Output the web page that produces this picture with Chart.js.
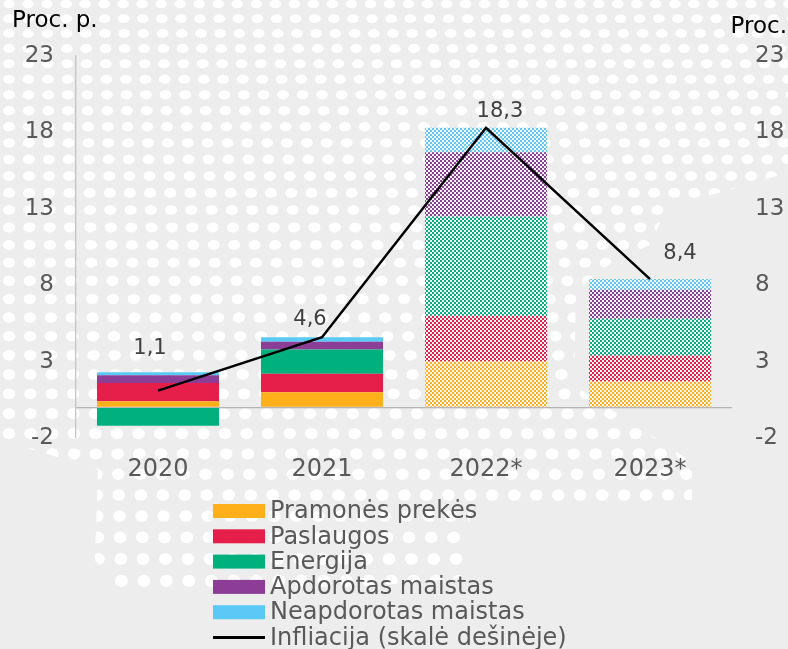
<!DOCTYPE html>
<html><head><meta charset="utf-8">
<script src="https://cdn.jsdelivr.net/npm/chart.js@4.4.1/dist/chart.umd.min.js"></script>
<style>html,body{margin:0;padding:0;background:#ededed;overflow:hidden}#wrap{width:788px;height:649px;position:relative}</style>
</head><body><div id="wrap"><canvas id="c" width="788" height="649"></canvas></div>
<script>
// ---- data ----
const categories = ['2020', '2021', '2022*', '2023*'];
const pramonesPrekes = [0.4, 1.0, 3.0, 1.7];
const paslaugos = [1.2, 1.2, 3.0, 1.7];
const energija = [-1.2, 1.6, 6.5, 2.4];
const apdorotasMaistas = [0.5, 0.5, 4.2, 1.9];
const neapdorotasMaistas = [0.2, 0.3, 1.6, 0.7];
const infliacija = [1.1, 4.6, 18.3, 8.4];
const infliacijaLabels = ['1,1', '4,6', '18,3', '8,4'];
const yTicks = [-2, 3, 8, 13, 18, 23];
const isForecast = [false, false, true, true];
const seriesNames = ['Pramonės prekės', 'Paslaugos', 'Energija', 'Apdorotas maistas', 'Neapdorotas maistas', 'Infliacija (skalė dešinėje)'];

// ---- styles ----
const FONT = "'DejaVu Sans', Verdana, sans-serif";
const TXT = '#595959';
const colors = ['#FDB01A', '#E61E4A', '#00B17E', '#8C3D96', '#5BC9F5'];
const labelOffsets = [[-8, -42], [-12, -18], [14, -16], [30, -26]];

function makePattern(color) {
  const c = document.createElement('canvas');
  c.width = 4; c.height = 4;
  const g = c.getContext('2d');
  g.fillStyle = '#f7f7f7'; g.fillRect(0, 0, 4, 4);
  g.fillStyle = color; g.fillRect(0, 0, 2, 2); g.fillRect(2, 2, 2, 2);
  return g.createPattern(c, 'repeat');
}
function fills(color) {
  const p = makePattern(color);
  return isForecast.map(f => f ? p : color);
}

const seriesValues = [pramonesPrekes, paslaugos, energija, apdorotasMaistas, neapdorotasMaistas];
const barDatasets = seriesValues.map((vals, i) => ({
  type: 'bar', label: seriesNames[i], data: vals,
  backgroundColor: fills(colors[i]), borderWidth: 0,
  yAxisID: 'y', stack: 'a', order: 1,
  categoryPercentage: 1, barPercentage: 0.744
}));

// ---- plugins ----
const bgDots = {
  id: 'bgDots',
  beforeDraw(chart) {
    const ctx = chart.ctx;
    ctx.save();
    ctx.fillStyle = '#ededed';
    ctx.fillRect(0, 0, chart.width, chart.height);
    ctx.beginPath();
    const poly = [[0,0],[788,0],[788,172],[745,186],[668,206],[650,245],[612,262],[576,292],[574,385],[630,422],[692,462],[692,500],[472,505],[462,578],[300,592],[120,592],[95,560],[98,470],[35,450],[0,446]];
    poly.forEach((p, i) => i ? ctx.lineTo(p[0], p[1]) : ctx.moveTo(p[0], p[1]));
    ctx.closePath();
    ctx.clip();
    ctx.fillStyle = '#ffffff';
    let y = 4;
    while (y < 649) {
      const sx = 19.0 + 0.006 * y;
      const rx = 5.8 + 0.001 * y, ry = 4.3 + 0.003 * y;
      for (let x = 9; x < 800; x += sx) {
        ctx.beginPath();
        ctx.ellipse(x, y, rx, ry, 0, 0, Math.PI * 2);
        ctx.fill();
      }
      y += 14.6 + 0.013 * y;
    }
    ctx.restore();
  }
};

const extras = {
  id: 'extras',
  afterDatasetsDraw(chart) {
    const ctx = chart.ctx;
    const meta = chart.getDatasetMeta(chart.data.datasets.length - 1);
    ctx.save();
    ctx.font = '21px ' + FONT;
    ctx.fillStyle = '#404040';
    ctx.textAlign = 'center';
    ctx.textBaseline = 'middle';
    meta.data.forEach((el, i) => {
      ctx.fillText(infliacijaLabels[i], el.x + labelOffsets[i][0], el.y + labelOffsets[i][1]);
    });
    ctx.restore();
  },
  afterDraw(chart) {
    const ctx = chart.ctx;
    ctx.save();
    // axis captions
    ctx.font = '23px ' + FONT;
    ctx.fillStyle = '#000000';
    ctx.textBaseline = 'middle';
    ctx.textAlign = 'left';
    ctx.fillText('Proc. p.', 12, 21);
    ctx.textAlign = 'right';
    ctx.fillText('Proc.', 787, 27);
    // legend
    ctx.font = '24px ' + FONT;
    ctx.textAlign = 'left';
    ctx.textBaseline = 'middle';
    const x0 = 213, w = 52, h = 14, y0 = 511, dy = 25.3;
    chart.data.datasets.forEach((ds, i) => {
      const yc = y0 + i * dy;
      if (ds.type === 'line') {
        ctx.strokeStyle = '#000000';
        ctx.lineWidth = 3;
        ctx.beginPath(); ctx.moveTo(x0, yc); ctx.lineTo(x0 + w, yc); ctx.stroke();
      } else {
        ctx.fillStyle = colors[i];
        ctx.fillRect(x0, yc - h / 2, w, h);
      }
      ctx.fillStyle = TXT;
      ctx.fillText(ds.label, x0 + w + 5, yc + 1);
    });
    ctx.restore();
  }
};

const setTicks = (s) => {
  s.ticks = yTicks.map(v => ({ value: v }));
};

new Chart(document.getElementById('c'), {
  data: {
    labels: categories,
    datasets: [...barDatasets, {
      type: 'line', label: seriesNames[5], data: infliacija,
      borderColor: '#000000', borderWidth: 2.5, pointRadius: 0, tension: 0,
      yAxisID: 'y1', stack: 'line', order: 0, fill: false
    }]
  },
  options: {
    responsive: false,
    devicePixelRatio: 1,
    animation: false,
    layout: { padding: { top: 56, left: 0, right: 0, bottom: 0 } },
    plugins: { legend: { display: false }, tooltip: { enabled: false } },
    scales: {
      x: {
        stacked: true,
        grid: { display: false, drawTicks: false },
        border: { display: false },
        ticks: { font: { size: 24, family: FONT }, color: TXT, padding: 17 },
        afterFit(s) { s.height = 211; }
      },
      y: {
        position: 'left', stacked: true, min: -2, max: 23,
        afterBuildTicks(s) { s.ticks = [-2, 0, 3, 8, 13, 18, 23].map(v => ({ value: v })); },
        grid: {
          drawTicks: false,
          color: (c) => (c.tick && c.tick.value === 0) ? '#b5b5b5' : 'rgba(0,0,0,0)',
          lineWidth: 1.3
        },
        border: { display: true, color: '#c4c4c4', width: 1.3 },
        ticks: {
          font: { size: 23, family: FONT }, color: TXT, padding: 22,
          callback: (v) => yTicks.includes(v) ? String(v) : ''
        },
        afterFit(s) { s.width = 76; }
      },
      y1: {
        position: 'right', min: -2, max: 23,
        afterBuildTicks: setTicks,
        grid: { display: false, drawTicks: false },
        border: { display: false },
        ticks: { font: { size: 23, family: FONT }, color: TXT, padding: 23 },
        afterFit(s) { s.width = 56; }
      }
    }
  },
  plugins: [bgDots, extras]
});
</script>
</body></html>
